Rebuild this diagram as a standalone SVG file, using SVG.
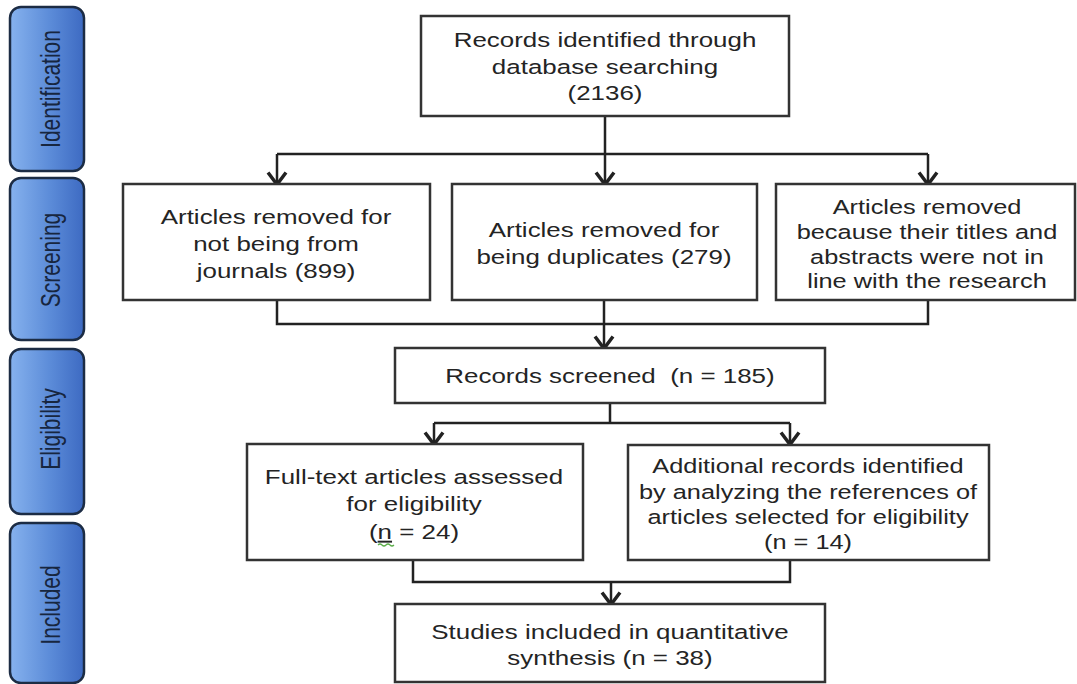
<svg xmlns="http://www.w3.org/2000/svg" width="1077" height="684" viewBox="0 0 1077 684">
<style>
.box{fill:#ffffff;stroke:#333333;stroke-width:2.5}
.side{fill:url(#blue);stroke:#1c2c44;stroke-width:2.5}
.t{font-family:"Liberation Sans",Arial,sans-serif;font-size:19.5px;fill:#242424;text-anchor:middle}
.st{font-family:"Liberation Sans",Arial,sans-serif;font-size:21px;fill:#17263f;text-anchor:middle;dominant-baseline:central}
.ln{fill:none;stroke:#222222;stroke-width:2.5}
.ar{fill:none;stroke:#222222;stroke-width:2.5;marker-end:url(#arr)}
</style>
<defs>
<linearGradient id="blue" x1="0" y1="0" x2="1" y2="0">
<stop offset="0" stop-color="#86b2ee"/>
<stop offset="0.55" stop-color="#5b8bd8"/>
<stop offset="1" stop-color="#3d6ac2"/>
</linearGradient>
<marker id="arr" viewBox="-16 -12 18 24" markerWidth="18" markerHeight="24" refX="-1.5" refY="0" orient="auto" markerUnits="userSpaceOnUse">
<path d="M-12,-9 L0,0 L-12,9" fill="none" stroke="#222222" stroke-width="3.5"/>
</marker>
</defs>
<rect width="1077" height="684" fill="#ffffff"/>

<g id="phase-identification">
<rect class="side" x="10" y="7" width="74" height="164" rx="11"/>
<g transform="translate(50,89) scale(1.3,1) rotate(-90)"><text class="st" x="0" y="0">Identification</text></g>
</g>
<g id="phase-screening">
<rect class="side" x="10" y="178" width="74" height="162" rx="11"/>
<g transform="translate(50,260) scale(1.3,1) rotate(-90)"><text class="st" x="0" y="0">Screening</text></g>
</g>
<g id="phase-eligibility">
<rect class="side" x="10" y="349" width="74" height="165" rx="11"/>
<g transform="translate(50,429) scale(1.3,1) rotate(-90)"><text class="st" x="0" y="0">Eligibility</text></g>
</g>
<g id="phase-included">
<rect class="side" x="10" y="523" width="74" height="160" rx="11"/>
<g transform="translate(50,605) scale(1.3,1) rotate(-90)"><text class="st" x="0" y="0">Included</text></g>
</g>

<g id="connectors">
<path class="ln" d="M605,116 V154 M277,154 H928"/>
<path class="ar" d="M277,154 V183"/>
<path class="ar" d="M605,154 V183"/>
<path class="ar" d="M928,154 V183"/>
<path class="ln" d="M277,300 V324 H928 V300"/>
<path class="ar" d="M604,300 V347"/>
<path class="ln" d="M610,403 V423 M434,423 H790"/>
<path class="ar" d="M434,423 V443"/>
<path class="ar" d="M790,423 V443"/>
<path class="ln" d="M413,560 V582 H790 V560"/>
<path class="ar" d="M611,582 V603"/>
</g>

<g id="node-identified">
<rect class="box" x="421" y="16" width="368" height="100"/>
<g transform="translate(605,0) scale(1.33,1)">
<text class="t" x="0" y="47">Records identified through</text>
<text class="t" x="0" y="74">database searching</text>
<text class="t" x="0" y="100">(2136)</text>
</g>
</g>

<g id="node-not-journals">
<rect class="box" x="123" y="184" width="307" height="116"/>
<g transform="translate(276,0) scale(1.33,1)">
<text class="t" x="0" y="224">Articles removed for</text>
<text class="t" x="0" y="251">not being from</text>
<text class="t" x="0" y="278">journals (899)</text>
</g>
</g>

<g id="node-duplicates">
<rect class="box" x="452" y="184" width="305" height="116"/>
<g transform="translate(604,0) scale(1.33,1)">
<text class="t" x="0" y="237">Articles removed for</text>
<text class="t" x="0" y="264">being duplicates (279)</text>
</g>
</g>

<g id="node-titles">
<rect class="box" x="776" y="184" width="299" height="116"/>
<g transform="translate(927,0) scale(1.3,1)">
<text class="t" x="0" y="214">Articles removed</text>
<text class="t" x="0" y="239">because their titles and</text>
<text class="t" x="0" y="264">abstracts were not in</text>
<text class="t" x="0" y="288">line with the research</text>
</g>
</g>

<g id="node-screened">
<rect class="box" x="395" y="348" width="430" height="55"/>
<g transform="translate(610,0) scale(1.33,1)">
<text class="t" x="0" y="383" xml:space="preserve">Records screened  (n = 185)</text>
</g>
</g>

<g id="node-fulltext">
<rect class="box" x="247" y="444" width="336" height="116"/>
<g transform="translate(414,0) scale(1.33,1)">
<text class="t" x="0" y="484">Full-text articles assessed</text>
<text class="t" x="0" y="511">for eligibility</text>
<text class="t" x="0" y="539">(<tspan text-decoration="underline">n</tspan> = 24)</text>
</g>
<path d="M378,545 q2,-2 4,0 t4,0 t4,0 t4,0" fill="none" stroke="#5cae4a" stroke-width="1.2"/>
</g>

<g id="node-additional">
<rect class="box" x="628" y="445" width="361" height="115"/>
<g transform="translate(808,0) scale(1.3,1)">
<text class="t" x="0" y="473">Additional records identified</text>
<text class="t" x="0" y="499">by analyzing the references of</text>
<text class="t" x="0" y="524">articles selected for eligibility</text>
<text class="t" x="0" y="549">(n = 14)</text>
</g>
</g>

<g id="node-included">
<rect class="box" x="395" y="604" width="430" height="78"/>
<g transform="translate(610,0) scale(1.33,1)">
<text class="t" x="0" y="639">Studies included in quantitative</text>
<text class="t" x="0" y="665">synthesis (n = 38)</text>
</g>
</g>
</svg>
